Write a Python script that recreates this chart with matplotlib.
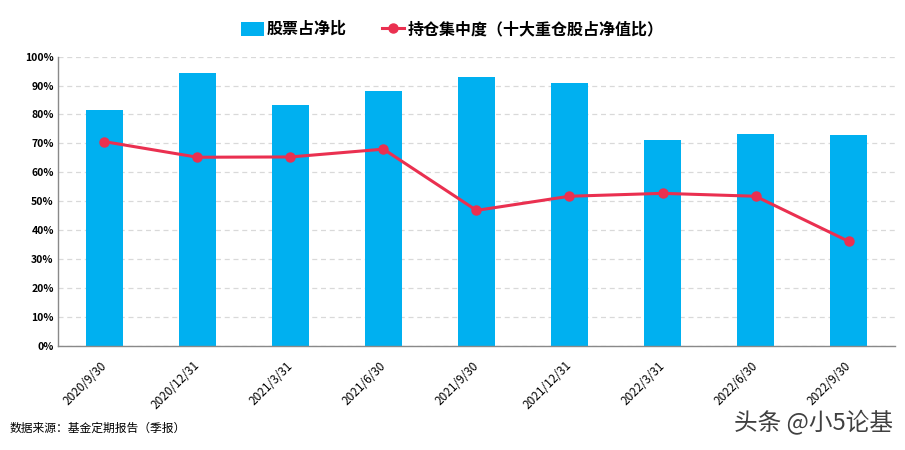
import matplotlib
matplotlib.use("Agg")
import matplotlib.pyplot as plt
import numpy as np

plt.rcParams['font.family'] = ['Noto Sans CJK SC', 'DejaVu Sans']

# 数据
dates = ["2020/9/30", "2020/12/31", "2021/3/31", "2021/6/30", "2021/9/30",
         "2021/12/31", "2022/3/31", "2022/6/30", "2022/9/30"]
stock_ratio = [81.5, 94.3, 83.2, 88.1, 92.9, 90.8, 71.1, 73.2, 72.8]
top10_ratio = [70.6, 65.2, 65.3, 68.0, 46.8, 51.7, 52.7, 51.7, 36.1]
yticks = [0, 10, 20, 30, 40, 50, 60, 70, 80, 90, 100]

fig = plt.figure(figsize=(9.05, 4.5), dpi=100)
ax = fig.add_axes([0.064, 0.232, 0.925, 0.642])

x = np.arange(len(dates))
bars = ax.bar(x, stock_ratio, width=0.4, color="#00B0F0", label="股票占净比", zorder=2)
line, = ax.plot(x, top10_ratio, color="#EA3050", lw=2.2, marker="o", ms=6.5,
                label="持仓集中度（十大重仓股占净值比）", zorder=3)

ax.set_xlim(-0.5, len(dates) - 0.5)
ax.set_ylim(0, 100)
ax.set_yticks(yticks)
ax.set_yticklabels([f"{v}%" for v in yticks], fontsize=7.5, fontweight="bold")
ax.set_xticks(x)
ax.set_xticklabels(dates, rotation=45, ha="right", va="center", rotation_mode="anchor",
                   fontsize=8.5)
ax.tick_params(axis="both", length=0, pad=3)
ax.tick_params(axis="x", pad=13)
ax.grid(axis="y", color="#D9D9D9", ls=(0, (4, 3)), lw=0.9, zorder=0)

for s in ["top", "right"]:
    ax.spines[s].set_visible(False)
for s in ["left", "bottom"]:
    ax.spines[s].set_color("#898989")
    ax.spines[s].set_linewidth(1.0)

fig.legend([bars, line], ["股票占净比", "持仓集中度（十大重仓股占净值比）"],
           loc="upper center", bbox_to_anchor=(0.5, 0.985), ncol=2, frameon=False,
           prop={"size": 11.5, "weight": "bold"}, handlelength=1.4, handleheight=1.0,
           columnspacing=2.2, handletextpad=0.2)

fig.text(0.011, 0.048, "数据来源：基金定期报告（季报）", fontsize=8.5, ha="left", va="center")
fig.text(0.987, 0.06, "头条 @小5论基", fontsize=17, ha="right", va="center", color="#404040")

fig.savefig("out.png", dpi=100)
